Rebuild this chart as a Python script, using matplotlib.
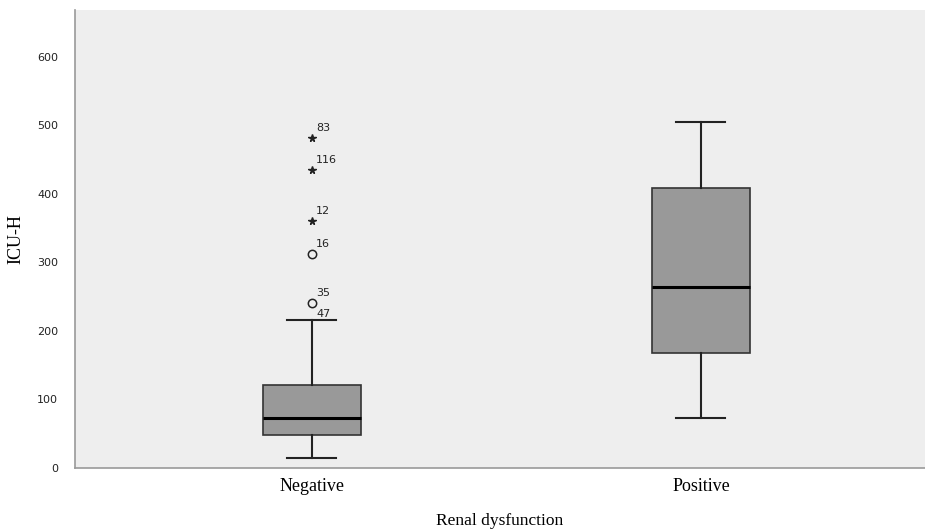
import matplotlib
matplotlib.use("Agg")
import matplotlib.pyplot as plt

groups = ["Negative", "Positive"]
# box stats (ICU hours)
whislo = [14, 72]
q1 = [48, 168]
med = [72, 264]
q3 = [121, 409]
whishi = [216, 504]

# flagged cases in the Negative group
case_ids = ["83", "116", "12", "16", "35"]
case_vals = [482, 434, 360, 312, 241]
case_kind = ["extreme", "extreme", "extreme", "outlier", "outlier"]
whisker_case = "47"

serif = ["Liberation Serif", "DejaVu Serif"]

fig = plt.figure(figsize=(9.25, 5.31), dpi=100)
ax = fig.add_axes([0.081, 0.119, 0.919, 0.862])
ax.set_facecolor("#eeeeee")

stats = []
for i in range(len(groups)):
    stats.append({"whislo": whislo[i], "q1": q1[i], "med": med[i],
                  "q3": q3[i], "whishi": whishi[i], "fliers": []})

ax.bxp(stats, positions=[1, 2], widths=0.252, patch_artist=True,
       showfliers=False,
       boxprops=dict(facecolor="#999999", edgecolor="#333333", linewidth=1.2),
       medianprops=dict(color="black", linewidth=2.2),
       whiskerprops=dict(color="#222222", linewidth=1.5),
       capprops=dict(color="#222222", linewidth=1.5),
       capwidths=0.126)

for cid, v, kind in zip(case_ids, case_vals, case_kind):
    if kind == "extreme":
        ax.plot(1, v, marker="*", color="#222222", markersize=5.5, linestyle="none")
    else:
        ax.plot(1, v, marker="o", markerfacecolor="none", markeredgecolor="#222222",
                markersize=6, markeredgewidth=1.1, linestyle="none")
    ax.annotate(cid, (1, v), xytext=(3, 5), textcoords="offset points",
                fontsize=8, color="#222222")
ax.annotate(whisker_case, (1, whishi[0]), xytext=(3, 2), textcoords="offset points",
            fontsize=8, color="#222222")

ax.set_xlim(0.391, 2.576)
ax.set_ylim(0, 668)
ax.set_yticks([0, 100, 200, 300, 400, 500, 600])
ax.set_xticks([1, 2])
ax.set_xticklabels(groups, fontfamily=serif, fontsize=13)
for lab in ax.get_yticklabels():
    lab.set_fontsize(8)
    lab.set_color("#222222")
ax.tick_params(axis="both", length=0)
ax.tick_params(axis="y", pad=12)
ax.tick_params(axis="x", pad=7)

for s in ["top", "right"]:
    ax.spines[s].set_visible(False)
for s in ["left", "bottom"]:
    ax.spines[s].set_color("#999999")
    ax.spines[s].set_linewidth(1.2)

ax.set_ylabel("ICU-H", fontfamily=serif, fontsize=13, labelpad=9)
ax.set_xlabel("Renal dysfunction", fontfamily=serif, fontsize=12.5, labelpad=13)

fig.savefig("out.png", dpi=100)
